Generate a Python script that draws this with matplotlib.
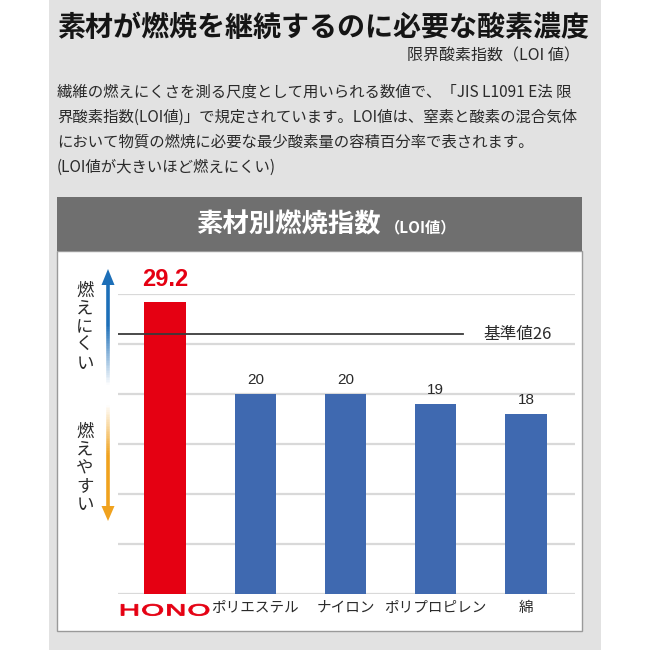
import matplotlib

matplotlib.use("Agg")
import matplotlib.pyplot as plt
import matplotlib.transforms as mtransforms
import numpy as np
from matplotlib.font_manager import FontProperties
from matplotlib.patches import PathPatch, Polygon, Rectangle
from matplotlib.textpath import TextPath

plt.rcParams["font.family"] = ["Noto Sans CJK JP", "DejaVu Sans"]

# data
categories = ["HONO", "ポリエステル", "ナイロン", "ポリプロピレン", "綿"]
loi_values = [29.2, 20, 20, 19, 18]
reference_value = 26
reference_label = "基準値"

title = "素材が燃焼を継続するのに必要な酸素濃度"
subtitle = "限界酸素指数（LOI 値）"
body_lines = [
    "繊維の燃えにくさを測る尺度として用いられる数値で、「JIS L1091 E法 限",
    "界酸素指数(LOI値)」で規定されています。LOI値は、窒素と酸素の混合気体",
    "において物質の燃焼に必要な最少酸素量の容積百分率で表されます。",
    "(LOI値が大きいほど燃えにくい)",
]
chart_title = "素材別燃焼指数"
chart_title_sub = "（LOI値）"
hard_label = "燃えにくい"
easy_label = "燃えやすい"

C_BG = "#e2e2e2"
C_HEAD = "#6f6f6f"
C_RED = "#e50012"
C_BLUE = "#3f69b0"
C_GRID = "#d9d9d9"
C_TEXT = "#2a2a2a"
C_ARROW_UP = "#1d6fb8"
C_ARROW_DN = "#f0a21e"

W = H = 650
fig = plt.figure(figsize=(6.5, 6.5), dpi=100, facecolor="white")

# full-figure layer in pixel coords for the page furniture
bg = fig.add_axes([0, 0, 1, 1])
bg.set_xlim(0, W)
bg.set_ylim(H, 0)
bg.set_axis_off()

bg.add_patch(Rectangle((49, 0), 552, 650, facecolor=C_BG, edgecolor="none"))
bg.text(57, 28, title, fontsize=20.2, fontweight="bold", color="#151515",
        ha="left", va="center")
bg.text(580, 56, subtitle, fontsize=11.5, color=C_TEXT, ha="right", va="center")
for i, line in enumerate(body_lines):
    bg.text(57, 92 + i * 25, line, fontsize=11.1, color=C_TEXT,
            ha="left", va="center")

# chart panel
bg.add_patch(Rectangle((57, 251), 525, 380, facecolor="white",
                       edgecolor="#9a9a9a", linewidth=1.0))
bg.add_patch(Rectangle((57, 197), 525, 54, facecolor=C_HEAD, edgecolor="none"))
bg.text(381, 225, chart_title, fontsize=19, fontweight="bold", color="white",
        ha="right", va="center")
bg.text(385, 227, chart_title_sub, fontsize=11, fontweight="bold", color="white",
        ha="left", va="center")


# gradient arrows on the left
def fade_arrow(x, y_tip, y_head, y_solid, y_fade, color):
    ys = np.linspace(y_head, y_fade, 60)
    for a, b in zip(ys[:-1], ys[1:]):
        m = (a + b) / 2
        t = np.clip((m - y_solid) / (y_fade - y_solid), 0, 1)
        bg.plot([x, x], [a, b], color=color, lw=2.6, alpha=1 - t,
                solid_capstyle="butt")
    bg.add_patch(Polygon([(x, y_tip), (x - 6.5, y_head), (x + 6.5, y_head)],
                         closed=True, facecolor=color, edgecolor="none"))


fade_arrow(108, 269, 285, 325, 385, C_ARROW_UP)
fade_arrow(108, 521, 506, 455, 405, C_ARROW_DN)

bg.text(85, 327, "\n".join(hard_label), fontsize=12.5, color=C_TEXT,
        ha="center", va="center", linespacing=1.02)
bg.text(85, 468, "\n".join(easy_label), fontsize=12.5, color=C_TEXT,
        ha="center", va="center", linespacing=1.02)

# bar chart
ax = fig.add_axes([118 / W, (H - 594) / H, 457 / W, 300 / H])
ax.set_facecolor("none")
x = np.arange(len(categories))
colors = [C_RED] + [C_BLUE] * (len(categories) - 1)
ax.bar(x, loi_values, width=0.46, color=colors, zorder=3)
ax.set_xlim(-0.522, len(categories) - 1 + 0.544)
ax.set_ylim(0, 30)
ax.set_yticks(np.arange(0, 31, 5))
ax.yaxis.grid(True, color=C_GRID, linewidth=1.6)
ax.xaxis.grid(False)
ax.set_axisbelow(True)
for s in ax.spines.values():
    s.set_visible(False)
ax.tick_params(axis="y", length=0, labelleft=False)
ax.tick_params(axis="x", length=0, pad=5)
ax.set_xticks(x)
ax.set_xticklabels([""] + categories[1:], fontsize=10.5, color=C_TEXT)

for i, v in enumerate(loi_values):
    if i == 0:
        ax.annotate(f"{v:g}", xy=(i, v), xytext=(0, 8), textcoords="offset points",
                    ha="center", va="bottom", fontsize=17, fontweight="bold",
                    color=C_RED, family=["Liberation Sans"])
    else:
        ax.annotate(f"{v:g}", xy=(i, v), xytext=(0, 5), textcoords="offset points",
                    ha="center", va="bottom", fontsize=11, color=C_TEXT,
                    family=["Liberation Sans"])

# reference line
ax.axhline(reference_value, xmin=0, xmax=0.755, color="#3a3a3a", lw=1.3, zorder=4)
ax.text(0.799, reference_value, f"{reference_label}{reference_value}",
        transform=mtransforms.blended_transform_factory(ax.transAxes, ax.transData),
        fontsize=12, color=C_TEXT, ha="left", va="center")

# brand name drawn as a stretched logotype under the first bar
tp = TextPath((0, 0), categories[0], size=10,
              prop=FontProperties(family="DejaVu Sans", weight="normal"))
ext = tp.get_extents()
logo_tr = (mtransforms.Affine2D()
           .translate(-(ext.x0 + ext.width / 2), -(ext.y0 + ext.height / 2))
           .scale(88 / ext.width, 11.5 / ext.height)
           + mtransforms.ScaledTranslation(
               0, -0.053,
               mtransforms.blended_transform_factory(ax.transData, ax.transAxes)))
ax.add_patch(PathPatch(tp, transform=logo_tr, facecolor=C_RED,
                       edgecolor=C_RED, linewidth=0.6, clip_on=False))

fig.savefig("out.png", dpi=100)
